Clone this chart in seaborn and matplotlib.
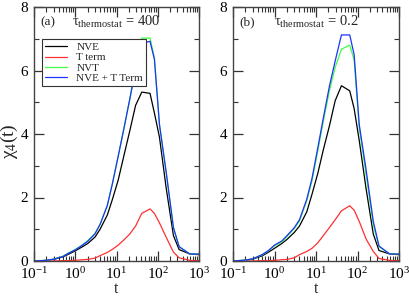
import matplotlib
matplotlib.use('Agg')

import matplotlib.pyplot as plt
import matplotlib.ticker as mticker
import seaborn as sns
import pandas as pd

# time grid shared by all curves
t = [0.1, 0.2, 0.3, 0.5, 0.7, 1, 1.5, 2, 3, 4, 6, 8, 11, 15, 21, 29,
     41, 65, 83, 110, 160, 240, 330, 600, 1000]

series_names = ["NVE", "T term", "NVT", "NVE + T Term"]
colors = ["black", "#ff3030", "#40ff40", "#2030ff"]

# panel (a): tau_thermostat = 400
a_nve = [0.0, 0.02, 0.05, 0.13, 0.22, 0.32, 0.45, 0.55, 0.75, 1.0, 1.45, 1.95,
         2.55, 3.3, 4.1, 4.9, 5.32, 5.28, 4.66, 3.9, 2.3, 0.8, 0.36, 0.22, 0.2]
a_tterm = [0.0, 0.0, 0.0, 0.01, 0.01, 0.02, 0.04, 0.05, 0.09, 0.17, 0.27, 0.37,
           0.5, 0.66, 0.85, 1.1, 1.5, 1.64, 1.5, 1.2, 0.75, 0.28, 0.1, 0.02, 0.01]
a_nvt = [0.0, 0.02, 0.06, 0.15, 0.26, 0.36, 0.51, 0.64, 0.87, 1.16, 1.76, 2.45,
         3.3, 4.15, 5.1, 6.05, 7.02, 7.02, 6.4, 4.3, 2.8, 1.05, 0.45, 0.22, 0.22]
a_sum = [0.0, 0.02, 0.06, 0.14, 0.25, 0.35, 0.5, 0.62, 0.85, 1.15, 1.75, 2.45,
         3.3, 4.15, 5.1, 6.05, 6.85, 6.92, 6.35, 4.3, 2.8, 1.05, 0.45, 0.22, 0.22]

# panel (b): tau_thermostat = 0.2
b_nve = [0.0, 0.02, 0.06, 0.16, 0.27, 0.4, 0.55, 0.68, 0.9, 1.1, 1.55, 2.1,
         2.75, 3.5, 4.25, 5.05, 5.52, 5.36, 4.8, 3.8, 2.3, 0.85, 0.33, 0.22, 0.2]
b_tterm = [0.0, 0.0, 0.0, 0.01, 0.01, 0.02, 0.04, 0.05, 0.1, 0.2, 0.3, 0.4,
           0.57, 0.8, 1.05, 1.3, 1.58, 1.74, 1.6, 1.25, 0.7, 0.3, 0.08, 0.02, 0.01]
b_nvt = [0.0, 0.03, 0.07, 0.19, 0.31, 0.48, 0.6, 0.77, 1.02, 1.26, 1.9, 2.52,
         3.45, 4.4, 5.35, 6.1, 6.67, 6.8, 6.33, 4.2, 2.75, 1.15, 0.45, 0.22, 0.22]
b_sum = [0.0, 0.03, 0.07, 0.2, 0.32, 0.5, 0.63, 0.8, 1.05, 1.3, 1.95, 2.6,
         3.55, 4.5, 5.5, 6.3, 7.12, 7.12, 6.5, 4.3, 2.9, 1.25, 0.47, 0.22, 0.22]

panels = [
    ("(a)", "400", [a_nve, a_tterm, a_nvt, a_sum]),
    ("(b)", "0.2", [b_nve, b_tterm, b_nvt, b_sum]),
]

sns.set_style("ticks")
plt.rcParams['font.family'] = ['Liberation Serif', 'DejaVu Serif']
plt.rcParams['mathtext.fontset'] = 'custom'
plt.rcParams['mathtext.rm'] = 'Liberation Serif'
plt.rcParams['mathtext.it'] = 'Liberation Serif:italic'
plt.rcParams['mathtext.bf'] = 'Liberation Serif:bold'

fig = plt.figure(figsize=(4.09, 2.96), dpi=100)
axes = [
    fig.add_axes([34 / 409, 1 - 261 / 296, 165 / 409, 254 / 296]),
    fig.add_axes([233 / 409, 1 - 261 / 296, 166 / 409, 254 / 296]),
]

for ax, (tag, tau, values) in zip(axes, panels):
    rows = []
    for name, vals in zip(series_names, values):
        for ti, v in zip(t, vals):
            rows.append({"t": ti, "chi4": v, "run": name})
    df = pd.DataFrame(rows)

    sns.lineplot(
        data=df, x="t", y="chi4", hue="run",
        hue_order=series_names,
        palette=dict(zip(series_names, colors)),
        linewidth=0.9, ax=ax, legend=(tag == "(a)")
    )

    ax.set_xscale("log")
    ax.set_xlim(0.1, 1000)
    ax.set_ylim(0, 8)
    ax.yaxis.set_major_locator(mticker.MultipleLocator(2))
    ax.yaxis.set_minor_locator(mticker.MultipleLocator(1))
    ax.xaxis.set_major_locator(mticker.LogLocator(base=10, numticks=10))
    ax.xaxis.set_minor_locator(
        mticker.LogLocator(base=10, subs=range(2, 10), numticks=20))
    ax.xaxis.set_minor_formatter(mticker.NullFormatter())

    ax.tick_params(which="both", direction="in", top=True, right=True,
                   colors="#333333", labelcolor="black")
    ax.tick_params(axis="x", labelsize=11, pad=4)
    ax.tick_params(axis="y", labelsize=11, pad=4)
    ax.tick_params(which="major", length=7, width=0.9)
    ax.tick_params(which="minor", length=3.5, width=0.8)
    for sp in ax.spines.values():
        sp.set_linewidth(1.0)
        sp.set_color("#444444")

    ax.set_xlabel("t", fontsize=11.5, labelpad=-1)
    ax.set_ylabel("")

    ax.text(0.04, 0.94, tag, transform=ax.transAxes, fontsize=9.5,
            ha="left", va="center")
    ax.text(0.50, 0.94, "τ$_{\\mathrm{thermostat}}$ = " + tau,
            transform=ax.transAxes, fontsize=10.5, ha="center", va="center")

axes[0].set_ylabel("χ$_{4}$(t)", fontsize=14)
axes[0].yaxis.set_label_coords(-0.085, 0.47)

leg = axes[0].legend(
    loc="upper left", bbox_to_anchor=(0.048, 0.874),
    borderaxespad=0, fontsize=8, handlelength=2.0, handletextpad=0.8,
    labelspacing=0.05, borderpad=0.3, fancybox=False, framealpha=1,
    title=None
)
leg.get_frame().set_edgecolor("#333333")
leg.get_frame().set_linewidth(0.8)

plt.savefig("out.png", dpi=100)
plt.close()
